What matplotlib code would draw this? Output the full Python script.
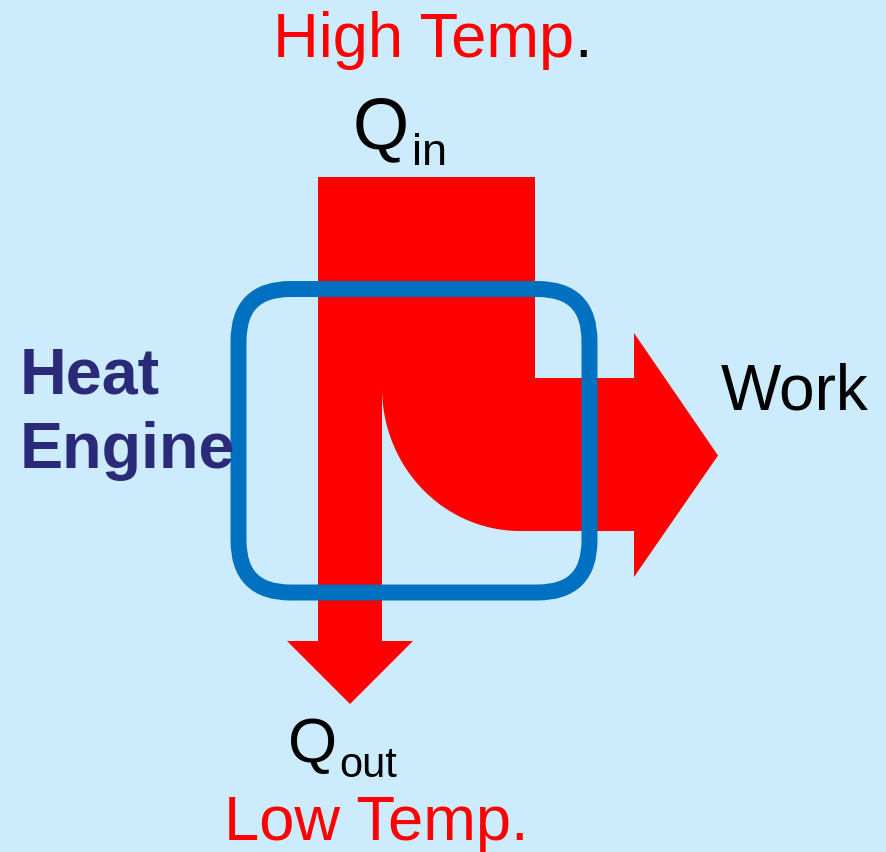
import numpy as np
import matplotlib.pyplot as plt
from matplotlib.patches import Polygon, FancyBboxPatch

plt.rcParams['font.family'] = ['Liberation Sans', 'DejaVu Sans']

# heat flows (drawn as band widths, in pixels)
q_in = 217
q_work = 153
q_out = q_in - q_work

bg = '#CCEBFC'
red = '#FF0000'
blue = '#0070C0'
navy = '#2A2A78'

fig = plt.figure(figsize=(8.87, 8.52), dpi=100)
fig.patch.set_facecolor(bg)
ax = fig.add_axes([0, 0, 1, 1])
ax.set_xlim(0, 887)
ax.set_ylim(852, 0)
ax.set_aspect('equal')
ax.axis('off')

# layout of the flow band
x0, y0 = 318, 177          # top-left of incoming band
y_split = 378              # top of the work band
x_head_w, y_head_d = 634, 641
head_extra = 45
r_in = 140

x_right = x0 + q_in
x_out_r = x0 + q_out
y_work_b = y_split + q_work
cx, cy = x_out_r + r_in - 2, y_work_b - r_in - 3

theta = np.linspace(np.pi / 2, np.pi, 40)
arc_x = cx + (cx - x_out_r) * np.cos(theta)
arc_y = cy + (y_work_b - cy) * np.sin(theta)

pts = [(x0, y0), (x_right, y0), (x_right, y_split), (x_head_w, y_split),
       (x_head_w, y_split - head_extra),
       (x_head_w + 84, y_split + q_work / 2 + 1),
       (x_head_w, y_work_b + head_extra + 1), (x_head_w, y_work_b)]
pts += list(zip(arc_x, arc_y))
pts += [(x_out_r, y_head_d), (x_out_r + 31, y_head_d),
        (x0 + q_out / 2, y_head_d + 63), (x0 - 31, y_head_d), (x0, y_head_d)]
ax.add_patch(Polygon(pts, closed=True, facecolor=red, edgecolor='none'))

# engine box
box = FancyBboxPatch((238.5, 289), 351, 303.5,
                     boxstyle='round,pad=0,rounding_size=52',
                     facecolor='none', edgecolor=blue, linewidth=11.5)
ax.add_patch(box)

# labels
hi = ax.text(273, 57, 'High Temp', color=red, fontsize=45.5, va='baseline')
ax.annotate('.', xy=(1, 57), xycoords=(hi, 'data'), color='black',
            fontsize=45.5, va='baseline', ha='left')
ax.text(353, 148, 'Q', fontsize=52, va='baseline')
ax.text(412, 165, 'in', fontsize=32.5, va='baseline')
ax.text(288, 762, 'Q', fontsize=45.5, va='baseline')
ax.text(339, 777, 'out', fontsize=30, va='baseline')
ax.text(224, 840, 'Low Temp.', color=red, fontsize=45.5, va='baseline')
ax.text(721, 409, 'Work', fontsize=46, va='baseline')
ax.text(20, 393, 'Heat', color=navy, fontsize=46.5, fontweight='bold', va='baseline')
ax.text(20, 468, 'Engine', color=navy, fontsize=46.5, fontweight='bold', va='baseline')

fig.savefig('out.png', dpi=100, facecolor=bg)
